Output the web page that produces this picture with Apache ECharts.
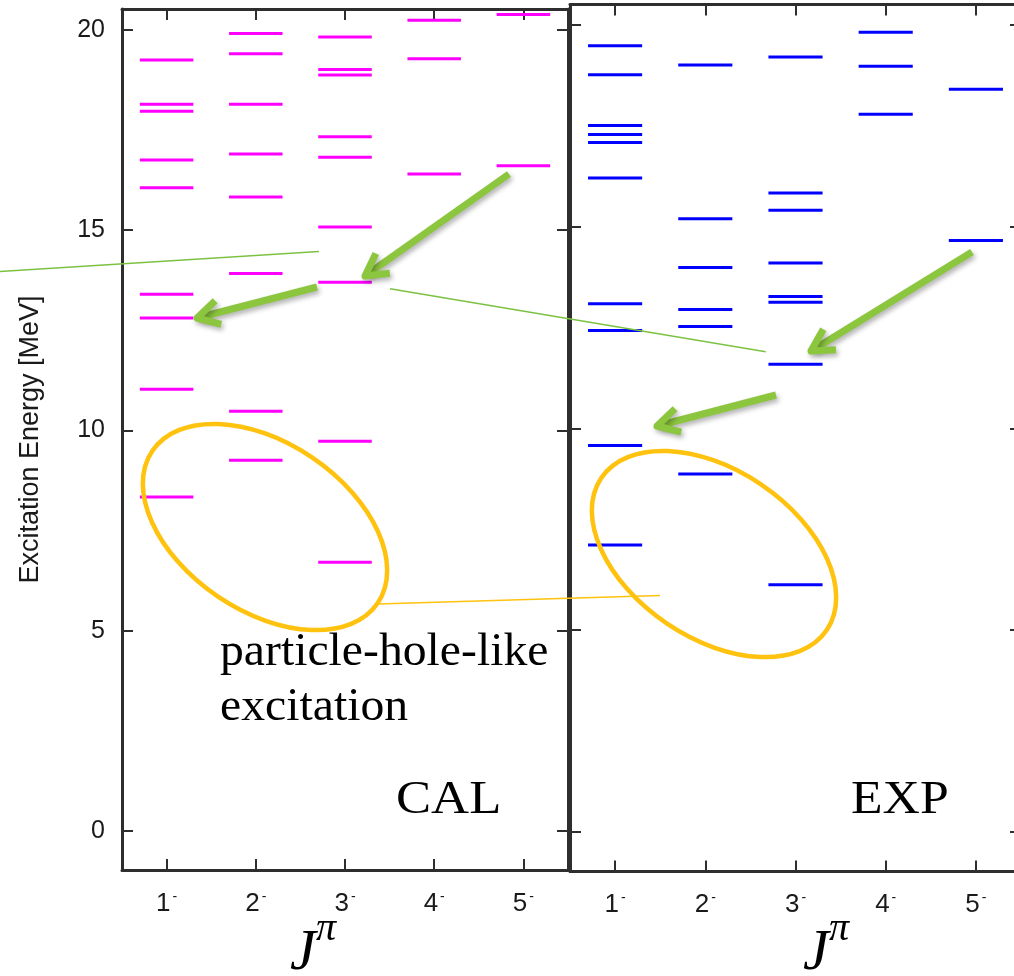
<!DOCTYPE html>
<html><head><meta charset="utf-8">
<script src="https://cdn.jsdelivr.net/npm/echarts@6/dist/echarts.min.js"></script>
<style>html,body{margin:0;padding:0;background:#fff}#c{width:1014px;height:976px}</style>
</head><body><div id="c"></div>
<script>
// ---- data ----
const jCategories = ['1', '2', '3', '4', '5'];
const yTickValues = [0, 5, 10, 15, 20];
// CAL (calculated) levels [MeV] per J^pi = 1- .. 5-
const cal1 = [19.25, 18.14, 17.97, 16.75, 16.06, 13.40, 12.81, 11.03, 8.34];
const cal2 = [19.91, 19.40, 18.14, 16.90, 15.83, 13.92, 10.48, 9.26];
const cal3 = [19.82, 19.01, 18.87, 17.33, 16.82, 15.08, 13.70, 9.73, 6.71];
const cal4 = [20.24, 19.28, 16.40];
const cal5 = [20.38, 16.61];
// EXP (experimental) levels [MeV]
const exp1 = [19.49, 18.77, 17.51, 17.29, 17.09, 16.21, 13.09, 12.43, 9.58, 7.11];
const exp2 = [19.01, 15.20, 13.99, 12.95, 12.53, 8.87];
const exp3 = [19.21, 15.84, 15.41, 14.10, 13.27, 13.13, 11.59, 6.13];
const exp4 = [19.82, 18.98, 17.79];
const exp5 = [18.41, 14.66];
const yExtentLeft = [-0.97, 20.52];
const yExtentRight = [-0.98, 20.51];

// ---- styles ----
const frameColor = '#2e2e2e';
const green = '#8cc63f';
const thinGreen = '#7cc242';
const yellow = '#ffc20e';
const sans = '"Liberation Sans", Arial, sans-serif';
const serif = '"Liberation Serif", "Times New Roman", serif';

function toData(groups) {
  const d = [];
  groups.forEach((arr, i) => arr.forEach(e => d.push([i, e])));
  return d;
}
function levelSeries(groups, color, idx) {
  return {
    type: 'custom', xAxisIndex: idx * 2, yAxisIndex: idx * 2,
    data: toData(groups), encode: { x: 0, y: 1 }, z: 3, silent: true,
    renderItem: function (params, api) {
      const c = api.coord([api.value(0), api.value(1)]);
      const w = api.size([1, 0])[0] * 0.6;
      return { type: 'line', shape: { x1: c[0] - w / 2, y1: c[1], x2: c[0] + w / 2, y2: c[1] },
        style: { stroke: color, lineWidth: 3 } };
    }
  };
}

const tickStyle = { color: frameColor, width: 2 };
const lineStyle = { color: frameColor, width: 3 };
function xAxes(g) {
  return [
    { type: 'category', gridIndex: g, data: jCategories, position: 'bottom', boundaryGap: true,
      axisLine: { show: true, onZero: false, lineStyle: lineStyle },
      axisTick: { show: true, inside: true, alignWithLabel: true, length: 11, lineStyle: tickStyle },
      axisLabel: { margin: 20, formatter: v => '{n|' + v + '}{s|-}',
        rich: { n: { fontSize: 26, fontFamily: sans, color: '#1a1a1a', lineHeight: 27 },
                s: { fontSize: 14, fontFamily: sans, color: '#1a1a1a', lineHeight: 12, verticalAlign: 'top', padding: [0, 0, 0, 2] } } },
      splitLine: { show: false } },
    { type: 'category', gridIndex: g, data: jCategories, position: 'top', boundaryGap: true,
      axisLine: { show: true, onZero: false, lineStyle: lineStyle },
      axisTick: { show: true, inside: true, alignWithLabel: true, length: 11, lineStyle: tickStyle },
      axisLabel: { show: false }, splitLine: { show: false } }
  ];
}
function yAxes(g, ext) {
  return [
    { type: 'value', gridIndex: g, min: ext[0], max: ext[1], position: 'left',
      axisLine: { show: true, onZero: false, lineStyle: lineStyle },
      axisTick: { show: true, inside: true, length: 11, lineStyle: tickStyle, customValues: yTickValues },
      axisLabel: { show: g === 0, customValues: yTickValues, margin: 17, fontSize: 25,
        fontFamily: sans, color: '#1a1a1a' },
      splitLine: { show: false },
      name: g === 0 ? 'Excitation Energy [MeV]' : '', nameLocation: 'middle', nameRotate: 90, nameGap: 78,
      nameTextStyle: { fontSize: 27, fontFamily: sans, color: '#1a1a1a' } },
    { type: 'value', gridIndex: g, min: ext[0], max: ext[1], position: 'right',
      axisLine: { show: true, onZero: false, lineStyle: lineStyle },
      axisTick: { show: true, inside: true, length: 11, lineStyle: tickStyle, customValues: yTickValues },
      axisLabel: { show: false }, splitLine: { show: false } }
  ];
}

function arrowEls(tail, tip) {
  const ang = Math.atan2(tail[1] - tip[1], tail[0] - tip[0]);
  const L = 25, h = 29 * Math.PI / 180;
  const w1 = [tip[0] + L * Math.cos(ang + h), tip[1] + L * Math.sin(ang + h)];
  const w2 = [tip[0] + L * Math.cos(ang - h), tip[1] + L * Math.sin(ang - h)];
  const end = [tip[0] + 4 * Math.cos(ang), tip[1] + 4 * Math.sin(ang)];
  const st = { stroke: green, fill: 'none', lineWidth: 7, lineCap: 'butt', lineJoin: 'round',
    shadowBlur: 5, shadowOffsetX: 2, shadowOffsetY: 3, shadowColor: 'rgba(0,0,0,0.3)' };
  return [
    { type: 'line', z: 20, shape: { x1: tail[0], y1: tail[1], x2: end[0], y2: end[1] }, style: st },
    { type: 'polyline', z: 20, shape: { points: [w1, tip, w2] }, style: st }
  ];
}
function thinLine(p1, p2, color) {
  return { type: 'line', z: 19, shape: { x1: p1[0], y1: p1[1], x2: p2[0], y2: p2[1] },
    style: { stroke: color, lineWidth: 1.5 } };
}
function ellipse(cx, cy) {
  return { type: 'ellipse', z: 19, x: cx, y: cy, rotation: -34 * Math.PI / 180,
    shape: { cx: 0, cy: 0, rx: 136, ry: 84 }, style: { fill: 'none', stroke: yellow, lineWidth: 4.5 } };
}
function txt(s, x, y, font, sx) {
  return { type: 'text', z: 21, x: x, y: y, scaleX: sx || 1,
    style: { text: s, font: font, fill: '#000', align: 'left', verticalAlign: 'middle',
      textAlign: 'left', textVerticalAlign: 'middle' } };
}

const graphics = [].concat(
  [thinLine([0, 271.5], [319, 251.5], thinGreen), thinLine([390, 288.7], [765.7, 351.7], thinGreen),
   thinLine([378, 604], [660, 595.5], yellow)],
  arrowEls([509, 174], [365, 276]), arrowEls([317, 287], [197, 318]),
  arrowEls([972, 252], [811, 351]), arrowEls([776, 395], [657, 426]),
  [ellipse(265, 527), ellipse(714, 554),
   txt('particle-hole-like', 220, 653, '47px ' + serif, 1.015),
   txt('excitation', 220, 708, '47px ' + serif, 1.015),
   txt('CAL', 396, 801, '47px ' + serif, 1.12),
   txt('EXP', 851, 801, '47px ' + serif, 1.1),
   txt('J', 290, 954, 'italic 58px ' + serif),
   txt('\u03c0', 316, 929, 'italic 40px ' + serif),
   txt('J', 803, 954, 'italic 58px ' + serif),
   txt('\u03c0', 829, 929, 'italic 40px ' + serif)]
);

const chart = echarts.init(document.getElementById('c'), null, { renderer: 'canvas' });
chart.setOption({
  backgroundColor: '#fff',
  animation: false,
  grid: [
    { left: 122, top: 9, width: 446, height: 861, containLabel: false, outerBoundsMode: 'none' },
    { left: 570, top: 4.5, width: 451, height: 867, containLabel: false, outerBoundsMode: 'none' }
  ],
  xAxis: xAxes(0).concat(xAxes(1)),
  yAxis: yAxes(0, yExtentLeft).concat(yAxes(1, yExtentRight)),
  series: [
    levelSeries([cal1, cal2, cal3, cal4, cal5], '#ff00ff', 0),
    levelSeries([exp1, exp2, exp3, exp4, exp5], '#0000ff', 1)
  ],
  graphic: { elements: graphics }
});
</script>
</body></html>
